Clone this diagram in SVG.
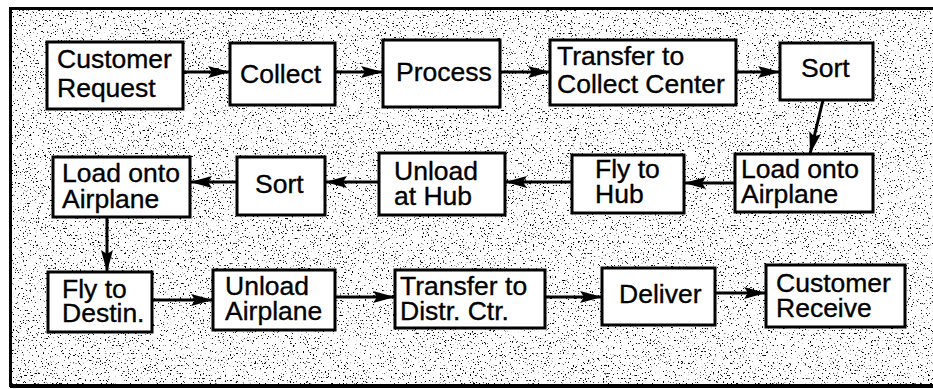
<svg xmlns="http://www.w3.org/2000/svg" width="933" height="389" viewBox="0 0 933 389">
  <style>
    .box rect { fill: #fff; stroke: #000; stroke-width: 3; }
    .box text { font-family: "Liberation Sans", Arial, Helvetica, sans-serif; font-size: 26.5px; fill: #000; stroke: #000; stroke-width: 0.35; }
    #connectors line { stroke: #000; stroke-width: 3; marker-end: url(#head); }
  </style>
  <defs>
    <marker id="head" viewBox="0 0 22 12" refX="22" refY="6" markerWidth="22" markerHeight="12" markerUnits="userSpaceOnUse" orient="auto">
      <path d="M0,0 L22,6 L0,12 L4,6 Z" fill="#000"/>
    </marker>
    <!-- stippled screen behind the chart -->
    <filter id="speckle" x="0" y="0" width="100%" height="100%" color-interpolation-filters="sRGB">
      <feTurbulence type="fractalNoise" baseFrequency="0.6" numOctaves="2" seed="7" result="n"/>
      <feColorMatrix in="n" type="matrix" values="0 0 0 0 0  0 0 0 0 0  0 0 0 0 0  -14 0 0 0 4.9"/>
    </filter>
  </defs>

  <rect x="0" y="0" width="933" height="389" fill="#fff"/>
  <rect x="10" y="9" width="923" height="376" filter="url(#speckle)"/>
  <!-- frame: left, top and bottom edges -->
  <path d="M935,8.5 H10.5 V385.5 H935" fill="none" stroke="#000" stroke-width="3"/>
  <line x1="10" y1="386.5" x2="933" y2="386.5" stroke="#000" stroke-width="3"/>

  <g id="connectors">
    <line x1="183" y1="72" x2="230" y2="72"/>
    <line x1="335" y1="72" x2="383" y2="72"/>
    <line x1="500" y1="72" x2="550" y2="72"/>
    <line x1="736" y1="72" x2="780" y2="72"/>
    <line x1="823" y1="100" x2="810" y2="154"/>
    <line x1="735" y1="183" x2="684" y2="183"/>
    <line x1="572" y1="182" x2="505" y2="182"/>
    <line x1="379" y1="182" x2="325" y2="182"/>
    <line x1="237" y1="182" x2="190" y2="182"/>
    <line x1="107" y1="217" x2="107" y2="272"/>
    <line x1="152" y1="300" x2="213" y2="300"/>
    <line x1="335" y1="297" x2="395" y2="297"/>
    <line x1="545" y1="297" x2="602" y2="297"/>
    <line x1="715" y1="293" x2="766" y2="293"/>
  </g>

  <g id="customer-request" class="box">
    <rect x="47" y="42" width="136" height="67"/>
    <text x="57" y="68">Customer</text>
    <text x="57" y="97">Request</text>
  </g>
  <g id="collect" class="box">
    <rect x="230" y="43" width="105" height="62"/>
    <text x="240" y="83">Collect</text>
  </g>
  <g id="process" class="box">
    <rect x="383" y="40" width="117" height="67"/>
    <text x="396" y="81">Process</text>
  </g>
  <g id="transfer-collect" class="box">
    <rect x="550" y="40" width="186" height="65"/>
    <text x="557" y="65">Transfer to</text>
    <text x="557" y="93">Collect Center</text>
  </g>
  <g id="sort-1" class="box">
    <rect x="780" y="43" width="93" height="57"/>
    <text x="801" y="77">Sort</text>
  </g>

  <g id="load-1" class="box">
    <rect x="735" y="154" width="138" height="58"/>
    <text x="741" y="178">Load onto</text>
    <text x="741" y="203">Airplane</text>
  </g>
  <g id="fly-hub" class="box">
    <rect x="572" y="155" width="112" height="58"/>
    <text x="595" y="178">Fly to</text>
    <text x="595" y="203">Hub</text>
  </g>
  <g id="unload-hub" class="box">
    <rect x="379" y="153" width="126" height="62"/>
    <text x="394" y="180">Unload</text>
    <text x="394" y="205">at Hub</text>
  </g>
  <g id="sort-2" class="box">
    <rect x="237" y="157" width="88" height="58"/>
    <text x="255" y="193">Sort</text>
  </g>
  <g id="load-2" class="box">
    <rect x="53" y="157" width="137" height="60"/>
    <text x="62" y="182">Load onto</text>
    <text x="62" y="208">Airplane</text>
  </g>

  <g id="fly-destin" class="box">
    <rect x="48" y="272" width="104" height="60"/>
    <text x="62" y="298">Fly to</text>
    <text x="62" y="322">Destin.</text>
  </g>
  <g id="unload-airplane" class="box">
    <rect x="213" y="270" width="122" height="60"/>
    <text x="225" y="295">Unload</text>
    <text x="225" y="320">Airplane</text>
  </g>
  <g id="transfer-distr" class="box">
    <rect x="395" y="270" width="150" height="58"/>
    <text x="400" y="295">Transfer to</text>
    <text x="400" y="320">Distr. Ctr.</text>
  </g>
  <g id="deliver" class="box">
    <rect x="602" y="268" width="113" height="57"/>
    <text x="619" y="303">Deliver</text>
  </g>
  <g id="customer-receive" class="box">
    <rect x="766" y="265" width="139" height="62"/>
    <text x="776" y="292">Customer</text>
    <text x="776" y="317">Receive</text>
  </g>
</svg>
